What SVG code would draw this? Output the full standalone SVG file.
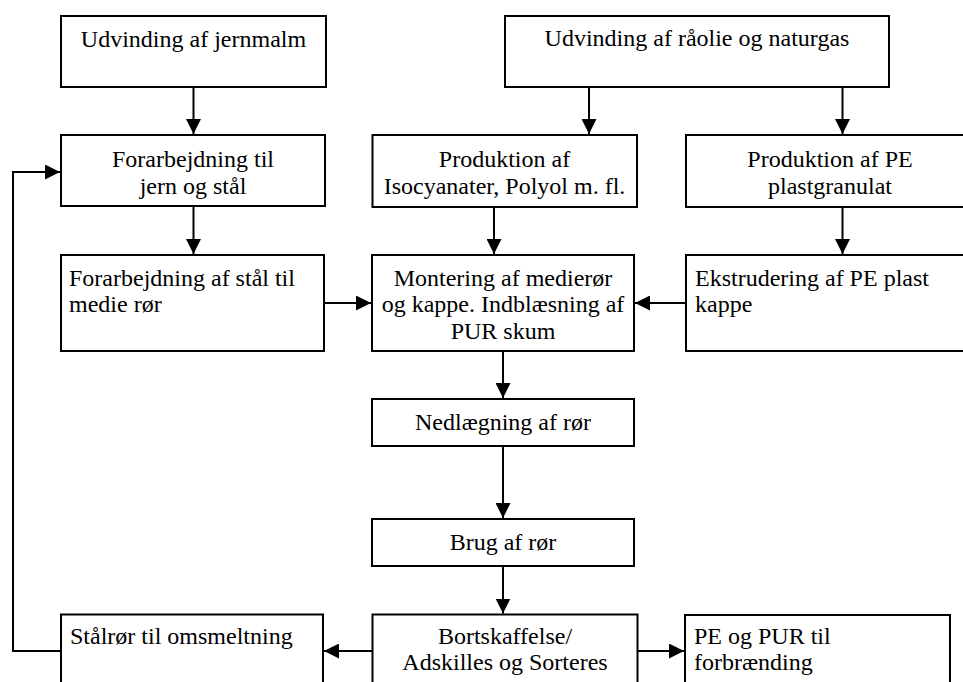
<svg xmlns="http://www.w3.org/2000/svg" width="963" height="682" viewBox="0 0 963 682">
<style>
  .box { fill: #ffffff; stroke: #000000; stroke-width: 2; }
  .lbl { font-family: "Liberation Serif", "Times New Roman", serif; font-size: 24px; fill: #000000; }
  .c { text-anchor: middle; }
  .conn { fill: none; stroke: #000000; stroke-width: 2; marker-end: url(#arr); }
</style>
<defs>
  <marker id="arr" markerUnits="userSpaceOnUse" markerWidth="15" markerHeight="15" refX="15" refY="7.5" orient="auto">
    <path d="M0,0 L15,7.5 L0,15 Z" fill="#000000"/>
  </marker>
</defs>
<rect x="0" y="0" width="963" height="682" fill="#ffffff"/>

<g id="connectors">
  <line class="conn" x1="193.5" y1="87" x2="193.5" y2="134"/>
  <line class="conn" x1="589" y1="87" x2="589" y2="134"/>
  <line class="conn" x1="842.5" y1="87" x2="842.5" y2="134"/>
  <line class="conn" x1="193.5" y1="206" x2="193.5" y2="254"/>
  <line class="conn" x1="494" y1="207" x2="494" y2="254"/>
  <line class="conn" x1="842.5" y1="207" x2="842.5" y2="254"/>
  <line class="conn" x1="324" y1="303" x2="371" y2="303"/>
  <line class="conn" x1="686" y1="303" x2="635" y2="303"/>
  <line class="conn" x1="503" y1="351" x2="503" y2="398"/>
  <line class="conn" x1="503" y1="446" x2="503" y2="518"/>
  <line class="conn" x1="503" y1="566" x2="503" y2="613.5"/>
  <line class="conn" x1="372.5" y1="651" x2="324" y2="651"/>
  <line class="conn" x1="637.5" y1="651" x2="684" y2="651"/>
  <polyline class="conn" points="61,651 13,651 13,172 60,172"/>
</g>

<g id="n1">
  <rect class="box" x="61" y="16" width="265" height="71"/>
  <text class="lbl c" x="193.5" y="46.5">Udvinding af jernmalm</text>
</g>
<g id="n2">
  <rect class="box" x="505" y="16" width="384" height="71"/>
  <text class="lbl c" x="697" y="46">Udvinding af råolie og naturgas</text>
</g>
<g id="n3">
  <rect class="box" x="61" y="135" width="264" height="71"/>
  <text class="lbl c" x="193" y="167">Forarbejdning til</text>
  <text class="lbl c" x="193" y="193.5">jern og stål</text>
</g>
<g id="n4">
  <rect class="box" x="372.5" y="135" width="264.5" height="72"/>
  <text class="lbl c" x="504.5" y="167">Produktion af</text>
  <text class="lbl c" x="504.5" y="193.5">Isocyanater, Polyol m. fl.</text>
</g>
<g id="n5">
  <rect class="box" x="686" y="135" width="290" height="72"/>
  <text class="lbl c" x="830" y="167">Produktion af PE</text>
  <text class="lbl c" x="830" y="193.5">plastgranulat</text>
</g>
<g id="n6">
  <rect class="box" x="61" y="255" width="263" height="96"/>
  <text class="lbl" x="69" y="285.5">Forarbejdning af stål til</text>
  <text class="lbl" x="69" y="312">medie rør</text>
</g>
<g id="n7">
  <rect class="box" x="372" y="255" width="262" height="96"/>
  <text class="lbl c" x="503" y="285.5">Montering af medierør</text>
  <text class="lbl c" x="503" y="312">og kappe. Indblæsning af</text>
  <text class="lbl c" x="503" y="338.5">PUR skum</text>
</g>
<g id="n8">
  <rect class="box" x="686" y="255" width="290" height="96"/>
  <text class="lbl" x="695" y="285.5">Ekstrudering af PE plast</text>
  <text class="lbl" x="695" y="312">kappe</text>
</g>
<g id="n9">
  <rect class="box" x="372" y="399" width="262" height="47"/>
  <text class="lbl c" x="503" y="430">Nedlægning af rør</text>
</g>
<g id="n10">
  <rect class="box" x="372" y="519" width="262" height="47"/>
  <text class="lbl c" x="503" y="550">Brug af rør</text>
</g>
<g id="n11">
  <rect class="box" x="61" y="614.5" width="262" height="100"/>
  <text class="lbl" x="70" y="644">Stålrør til omsmeltning</text>
</g>
<g id="n12">
  <rect class="box" x="372.5" y="614.5" width="265" height="100"/>
  <text class="lbl c" x="505" y="644">Bortskaffelse/</text>
  <text class="lbl c" x="505" y="670">Adskilles og Sorteres</text>
</g>
<g id="n13">
  <rect class="box" x="685" y="615" width="265" height="100"/>
  <text class="lbl" x="694" y="644">PE og PUR til</text>
  <text class="lbl" x="694" y="670">forbrænding</text>
</g>
</svg>
